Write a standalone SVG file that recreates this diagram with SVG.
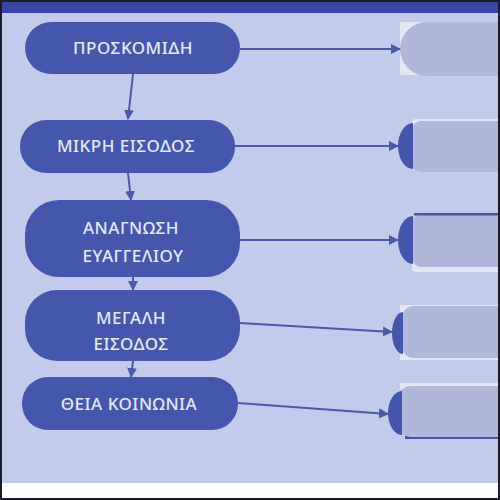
<svg xmlns="http://www.w3.org/2000/svg" width="500" height="500" viewBox="0 0 500 500">
<style>
.node{fill:#4457ad}
.lbl{font-family:"Noto Sans","DejaVu Sans",sans-serif;font-size:17px;font-weight:500;fill:#e3e7f5;text-anchor:middle;letter-spacing:0.5px}
.body{fill:#b0b7d9}
.halo{fill:#e2e6f5}
.cap{fill:#4356ab}
.edge{stroke:#4a59ab;stroke-width:2;fill:none;marker-end:url(#ah)}
</style>
<defs>
<marker id="ah" viewBox="0 0 10 10" refX="9" refY="5" markerWidth="5" markerHeight="5" orient="auto" markerUnits="strokeWidth">
<path d="M0,0 L10,5 L0,10 Z" fill="#4a59ab"/>
</marker>
</defs>
<rect x="0" y="0" width="500" height="500" fill="#ffffff"/>
<rect x="0" y="12" width="500" height="471" fill="#c3cbeb"/>
<rect x="0" y="0" width="500" height="13" fill="#3a46a6"/>

<g id="n1"><rect class="node" x="25" y="22" width="215" height="52" rx="26"/><text class="lbl" x="133" y="54">ΠΡΟΣΚΟΜΙΔΗ</text></g>
<g id="n2"><rect class="node" x="20" y="120" width="215" height="53" rx="26"/><text class="lbl" x="126" y="152">ΜΙΚΡΗ ΕΙΣΟΔΟΣ</text></g>
<g id="n3"><rect class="node" x="25" y="200" width="215" height="77" rx="34"/><text class="lbl" x="131" y="234">ΑΝΑΓΝΩΣΗ</text><text class="lbl" x="133" y="262">ΕΥΑΓΓΕΛΙΟΥ</text></g>
<g id="n4"><rect class="node" x="25" y="290" width="215" height="71" rx="32"/><text class="lbl" x="131" y="324">ΜΕΓΑΛΗ</text><text class="lbl" x="131" y="350">ΕΙΣΟΔΟΣ</text></g>
<g id="n5"><rect class="node" x="22" y="377" width="216" height="53" rx="26"/><text class="lbl" x="129" y="410">ΘΕΙΑ ΚΟΙΝΩΝΙΑ</text></g>

<g id="r1"><rect class="halo" x="400" y="22" width="100" height="53"/><rect class="body" x="400" y="22" width="140" height="54" rx="27"/></g>
<g id="r2"><rect class="halo" x="412" y="119" width="100" height="12" rx="4"/><rect class="body" x="412" y="121" width="130" height="51" rx="9"/><path class="cap" d="M413,123 A15,23 0 0 0 413,169 Z"/></g>
<g id="r3"><rect class="halo" x="412" y="260" width="100" height="12" rx="4"/><rect class="body" x="412" y="215" width="130" height="52" rx="9"/><rect class="cap" x="414" y="213" width="86" height="2.5"/><path class="cap" d="M413,216 A15,24 0 0 0 413,264 Z"/></g>
<g id="r4"><rect class="halo" x="400" y="305" width="100" height="55"/><rect class="body" x="402" y="306" width="138" height="52" rx="12"/><path class="cap" d="M403,312 A11,21 0 0 0 403,354 Z"/></g>
<g id="r5"><rect class="halo" x="400" y="383" width="100" height="6"/><rect class="cap" x="405" y="436" width="95" height="3"/><rect class="body" x="400" y="386" width="140" height="51" rx="10"/><path class="cap" d="M402,391 A14,22 0 0 0 402,435 Z"/></g>

<g id="connectors">
<path class="edge" d="M133,74 L128,119"/>
<path class="edge" d="M128,173 L131,200"/>
<path class="edge" d="M133,277 L133,290"/>
<path class="edge" d="M133,361 L131,377"/>
<path class="edge" d="M240,49 L400,49"/>
<path class="edge" d="M235,146 L398,146"/>
<path class="edge" d="M240,240 L398,240"/>
<path class="edge" d="M240,323 L392,332"/>
<path class="edge" d="M238,403 L388,414"/>
</g>
<rect x="1" y="1" width="498" height="498" fill="none" stroke="#1c1c2c" stroke-width="2"/>
</svg>
